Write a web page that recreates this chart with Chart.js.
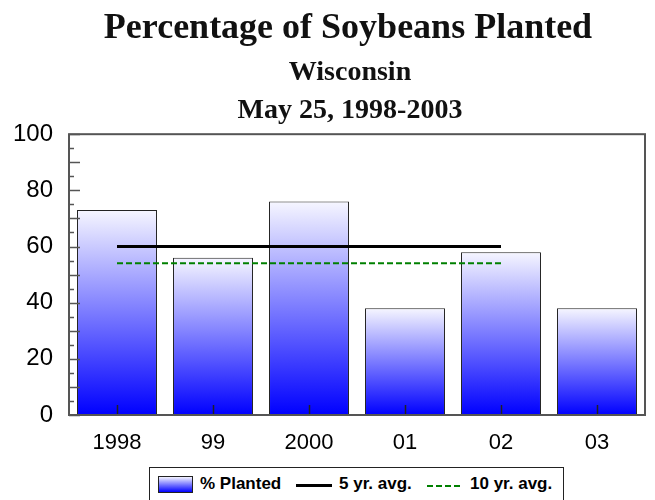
<!DOCTYPE html>
<html>
<head>
<meta charset="utf-8">
<script src="https://cdn.jsdelivr.net/npm/chart.js@4"></script>
<style>
  body { margin: 0; background: #fff; }
  #wrap { position: relative; width: 655px; height: 500px; overflow: hidden; }
  #legend {
    position: absolute; left: 149px; top: 467px; width: 415px; height: 40px;
    border: 1.5px solid #222; box-sizing: border-box; background: #fff;
    font: bold 17px "Liberation Sans", Arial, sans-serif; color: #000; white-space: nowrap;
  }
  #legend > * { position: absolute; }
  #legend .sw { left: 8px; top: 8px; width: 35px; height: 17px; border: 1px solid #222; box-sizing: border-box;
    background: linear-gradient(#f4f4ff, #0000ff); }
  #legend .ln { left: 146px; top: 16px; width: 36px; height: 0; border-top: 3px solid #000; }
  #legend .dash { left: 277px; top: 17px; width: 33px; height: 0; border-top: 2px dashed #008000; }
  #legend span { top: 7px; line-height: 18px; }
</style>
</head>
<body>
<div id="wrap">
  <canvas id="soyChart" width="655" height="500"></canvas>
  <div id="legend">
    <div class="sw"></div><span style="left:50px">% Planted</span>
    <div class="ln"></div><span style="left:189px">5 yr. avg.</span>
    <div class="dash"></div><span style="left:320px">10 yr. avg.</span>
  </div>
</div>
<script>
// data
const years = ['1998', '99', '2000', '01', '02', '03'];
const planted = [73, 56, 76, 38, 58, 38];
const avg5 = [60, 60, 60, 60, 60, null];
const avg10 = [54, 54, 54, 54, 54, null];
const yTicks = [0, 20, 40, 60, 80, 100];

// gradient for each bar, light at top -> blue at bottom
function barGradient(context) {
    const chart = context.chart;
    if (!chart.chartArea) return '#6060ff';
    const y = chart.scales.y;
    const top = y.getPixelForValue(context.raw);
    const bottom = y.getPixelForValue(0);
    const g = chart.ctx.createLinearGradient(0, top, 0, bottom);
    g.addColorStop(0, '#f6f6ff');
    g.addColorStop(1, '#0000ff');
    return g;
}

// frame around plot + inward ticks
const frameTicks = {
    id: 'frameTicks',
    afterDatasetsDraw(chart) {
        const c = chart.ctx;
        const a = chart.chartArea;
        const y = chart.scales.y;
        const x = chart.scales.x;
        c.save();
        c.strokeStyle = '#555';
        c.lineWidth = 1.5;
        for (let v = 0; v <= 100; v += 5) {
            const py = Math.round(y.getPixelForValue(v)) + 0.5;
            const len = v % 10 === 0 ? 11 : 5;
            c.beginPath();
            c.moveTo(a.left, py);
            c.lineTo(a.left + len, py);
            c.stroke();
        }
        c.strokeStyle = '#222';
        years.forEach((yr, i) => {
            const px = Math.round(x.getPixelForValue(i)) + 0.5;
            c.beginPath();
            c.moveTo(px, a.bottom);
            c.lineTo(px, a.bottom - 10);
            c.stroke();
        });
        c.strokeStyle = '#555';
        c.lineWidth = 2;
        c.strokeRect(a.left, a.top, a.right - a.left, a.bottom - a.top);
        c.restore();
    }
};

const ctx = document.getElementById('soyChart').getContext('2d');

new Chart(ctx, {
    data: {
        labels: years,
        datasets: [
            {
                type: 'line',
                label: '5 yr. avg.',
                data: avg5,
                borderColor: '#000',
                borderWidth: 3,
                pointRadius: 0,
                fill: false,
                order: 1
            },
            {
                type: 'line',
                label: '10 yr. avg.',
                data: avg10,
                borderColor: '#008000',
                borderWidth: 2,
                borderDash: [6, 3],
                pointRadius: 0,
                fill: false,
                order: 1
            },
            {
                type: 'bar',
                label: '% Planted',
                data: planted,
                backgroundColor: barGradient,
                borderColor: '#222',
                borderWidth: 1,
                borderSkipped: false,
                categoryPercentage: 0.833,
                barPercentage: 1,
                order: 2
            }
        ]
    },
    options: {
        responsive: false,
        animation: false,
        layout: { padding: { left: 13, right: 10, top: 0, bottom: 43 } },
        plugins: {
            legend: { display: false },
            tooltip: { enabled: false },
            title: {
                display: true,
                text: 'Percentage of Soybeans Planted\u2002',
                color: '#111',
                font: { family: '"Liberation Serif", "Times New Roman", serif', size: 36, weight: 'bold', lineHeight: 1.2 },
                padding: { top: 7, bottom: 4 },
                fullSize: false
            },
            subtitle: {
                display: true,
                text: ['Wisconsin\u2002', 'May 25, 1998-2003\u2002'],
                color: '#111',
                font: { family: '"Liberation Serif", "Times New Roman", serif', size: 28, weight: 'bold', lineHeight: 1.357 },
                padding: { top: 0, bottom: 4 },
                fullSize: false
            }
        },
        scales: {
            x: {
                grid: { display: false, drawTicks: false },
                border: { display: false },
                afterFit(scale) { scale.height = 42; },
                ticks: {
                    color: '#000',
                    padding: 15,
                    font: { family: '"Liberation Sans", Arial, sans-serif', size: 22 }
                }
            },
            y: {
                min: 0,
                max: 100,
                afterBuildTicks(scale) {
                    scale.ticks = yTicks.map(v => ({ value: v }));
                },
                afterFit(scale) { scale.width = 56; },
                grid: { display: false, drawTicks: false },
                border: { display: false },
                ticks: {
                    color: '#000',
                    padding: 16,
                    font: { family: '"Liberation Sans", Arial, sans-serif', size: 24 }
                }
            }
        }
    },
    plugins: [frameTicks]
});
</script>
</body>
</html>
